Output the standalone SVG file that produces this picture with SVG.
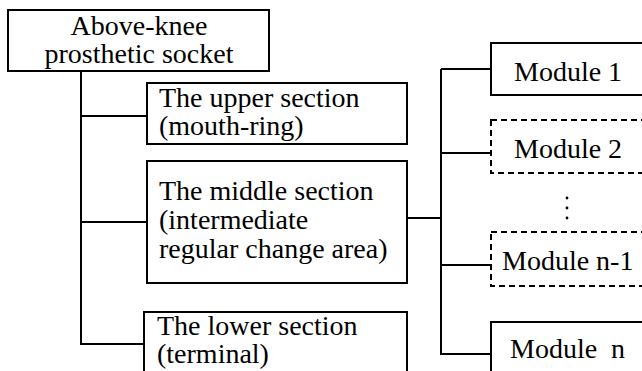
<svg xmlns="http://www.w3.org/2000/svg" width="642" height="371" viewBox="0 0 642 371">
  <style>
    .box { fill: #fff; stroke: #000; stroke-width: 2; }
    .dash { stroke-dasharray: 6 4; }
    .lbl { font-family: "Liberation Serif", "Times New Roman", serif; font-size: 28px; fill: #000; }
    .wire { fill: none; stroke: #000; stroke-width: 2; }
  </style>
  <rect width="642" height="371" fill="#fff"/>

  <!-- connectors -->
  <g id="connectors" class="wire">
    <path d="M81 71 V344 H144"/>
    <path d="M81 116 H147"/>
    <path d="M81 222 H147"/>
    <path d="M407 218 H441"/>
    <path d="M441 69 V354 H491"/>
    <path d="M441 69 H491"/>
    <path d="M441 153 H491"/>
    <path d="M441 265 H491"/>
  </g>

  <g id="socket">
    <rect class="box" x="8" y="10" width="261" height="61"/>
    <text class="lbl" x="139" y="35" text-anchor="middle">Above-knee</text>
    <text class="lbl" x="139" y="63" text-anchor="middle">prosthetic socket</text>
  </g>

  <g id="upper">
    <rect class="box" x="147" y="83" width="260" height="61"/>
    <text class="lbl" x="159" y="107">The upper section</text>
    <text class="lbl" x="159" y="135">(mouth-ring)</text>
  </g>

  <g id="middle">
    <rect class="box" x="147" y="161" width="260" height="122"/>
    <text class="lbl" x="159" y="200">The middle section</text>
    <text class="lbl" x="159" y="229">(intermediate</text>
    <text class="lbl" x="159" y="258">regular change area)</text>
  </g>

  <g id="lower">
    <rect class="box" x="144" y="312" width="263" height="80"/>
    <text class="lbl" x="157" y="335">The lower section</text>
    <text class="lbl" x="157" y="363">(terminal)</text>
  </g>

  <g id="module1">
    <rect class="box" x="491" y="43" width="170" height="52"/>
    <text class="lbl" x="514" y="81">Module 1</text>
  </g>

  <g id="module2">
    <rect class="box dash" x="491" y="120" width="170" height="53"/>
    <text class="lbl" x="514" y="158">Module 2</text>
  </g>

  <g id="ellipsis" fill="#000">
    <circle cx="567" cy="198" r="1.4"/>
    <circle cx="567" cy="208" r="1.4"/>
    <circle cx="567" cy="218" r="1.4"/>
  </g>

  <g id="moduleN1">
    <rect class="box dash" x="491" y="232" width="170" height="54"/>
    <text class="lbl" x="502" y="270">Module n-1</text>
  </g>

  <g id="moduleN">
    <rect class="box" x="491" y="322" width="170" height="70"/>
    <text class="lbl" x="510" y="358" xml:space="preserve">Module  n</text>
  </g>
</svg>
